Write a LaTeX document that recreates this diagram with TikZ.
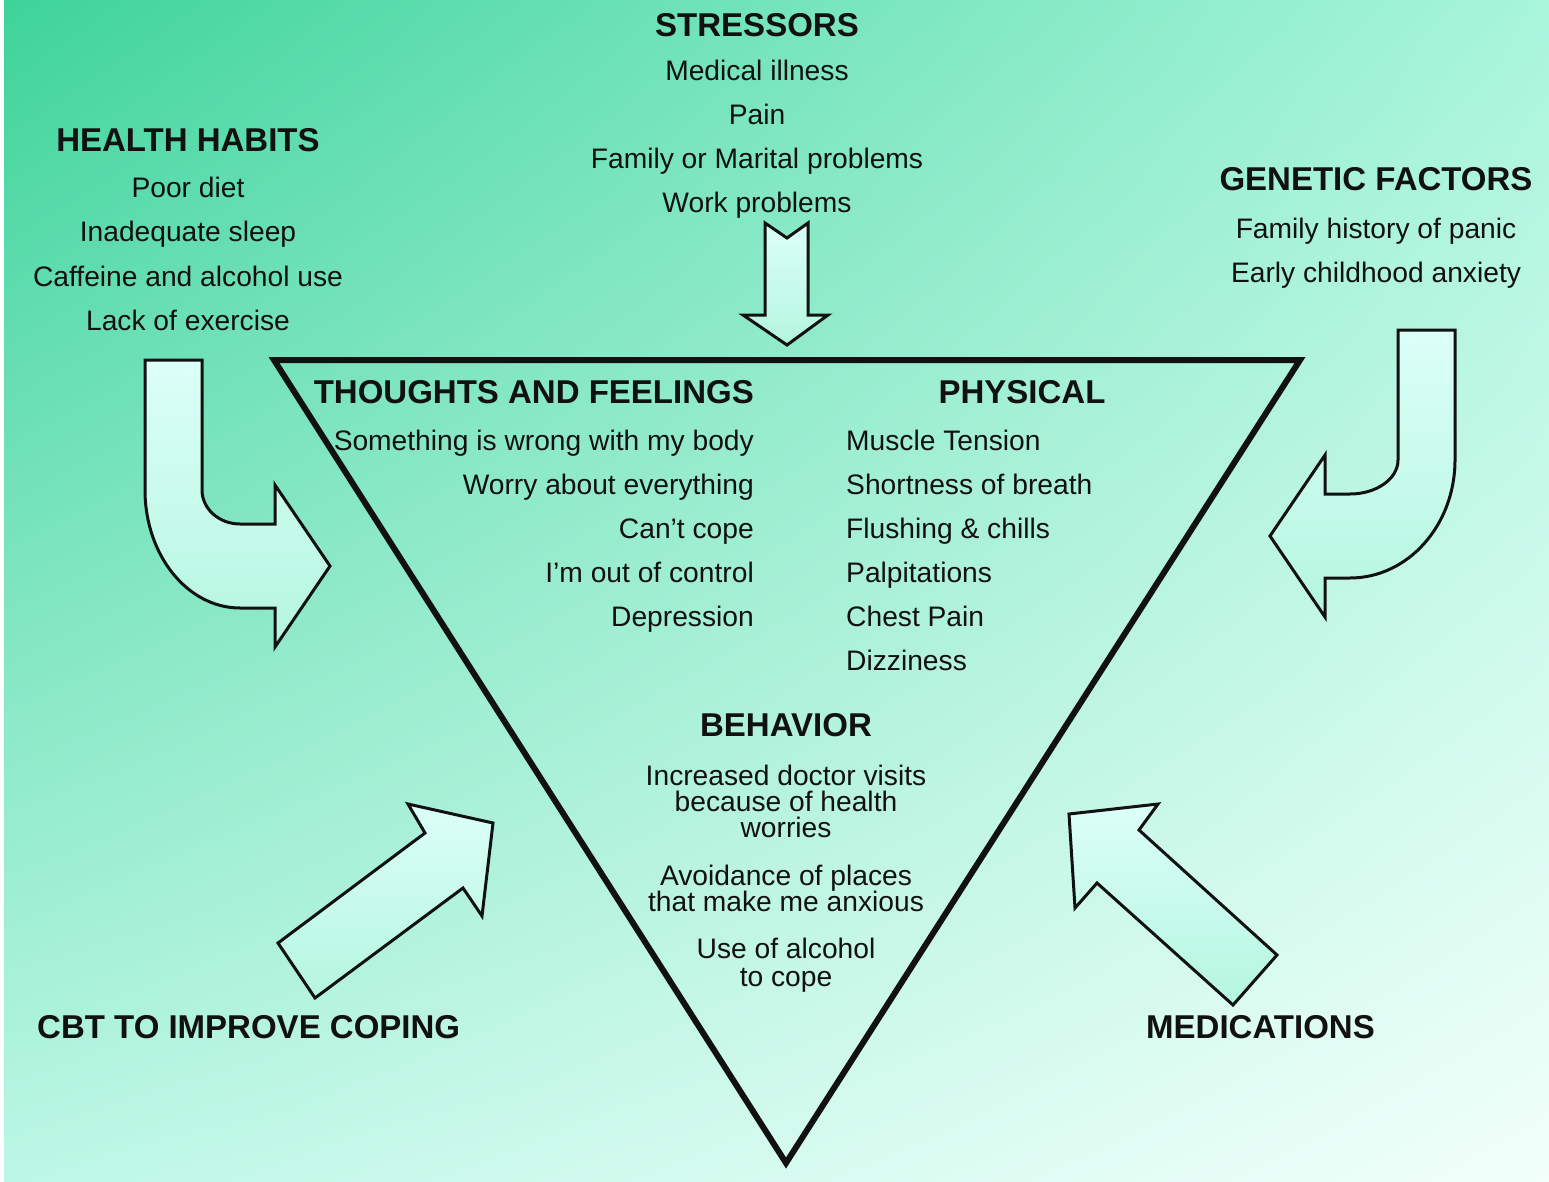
\documentclass[tikz,border=0pt]{standalone}
\usepackage{fontspec}
\usetikzlibrary{shadings}
\setmainfont{Liberation Sans}
\definecolor{bgTL}{RGB}{62,211,154}
\definecolor{bgTR}{RGB}{168,245,220}
\definecolor{bgBL}{RGB}{188,247,229}
\definecolor{bgBR}{RGB}{242,255,251}
\definecolor{arrTop}{RGB}{220,255,247}
\definecolor{arrBot}{RGB}{180,246,224}
\definecolor{ink}{RGB}{17,17,17}
\tikzset{
  txt/.style={font=\fontsize{28.2}{30}\selectfont, inner sep=0pt, anchor=base, text=ink},
  hd/.style={font=\fontsize{33}{34}\selectfont\bfseries, inner sep=0pt, anchor=base, text=ink},
  blockarrow/.style={draw=ink, line width=3pt, line join=miter, top color=arrTop, bottom color=arrBot},
}
\begin{document}
\begin{tikzpicture}[x=1pt,y=-1pt]
\useasboundingbox (0,0) rectangle (1549,1182);
\fill[white] (0,0) rectangle (1549,1182);
\shade[upper left=bgTL, upper right=bgTR, lower left=bgBL, lower right=bgBR] (4,0) rectangle (1549,1182);

% triangle
\draw[ink, line width=6pt, line join=miter] (274,360) -- (1300,360) -- (786,1163) -- cycle;

% stressors arrow
\path[blockarrow] (765,223) -- (787,238) -- (808,223) -- (808,315) -- (828,315) -- (787,345) -- (743,315) -- (765,315) -- cycle;

% health habits arrow
\path[blockarrow] (145,360) -- (202,360) -- (202,490)
  arc[start angle=180, end angle=90, x radius=38, y radius=34]
  -- (275,524) -- (275,485) -- (330,566) -- (275,647) -- (275,608) -- (240,608)
  arc[start angle=90, end angle=180, x radius=95, y radius=118]
  -- cycle;

% genetic factors arrow
\path[blockarrow] (1398,330) -- (1455,330) -- (1455,460)
  arc[start angle=0, end angle=90, x radius=105, y radius=118]
  -- (1325,578) -- (1325,617) -- (1270,536) -- (1325,455) -- (1325,494) -- (1350,494)
  arc[start angle=90, end angle=0, x radius=48, y radius=34]
  -- cycle;

% CBT arrow
\path[blockarrow] (278,943) -- (425,833) -- (408,804) -- (493,823) -- (482,916) -- (463,888) -- (315,998) -- cycle;

% medications arrow
\path[blockarrow] (1069,814) -- (1158,804) -- (1139,830) -- (1277,955) -- (1233,1005) -- (1097,883) -- (1075,908) -- cycle;

% stressors
\node[hd] (sh) at (757,37) {STRESSORS};
\node[txt] (s1) at (757,81) {Medical illness};
\node[txt] (s2) at (757,125) {Pain};
\node[txt] (s3) at (757,169) {Family or Marital problems};
\node[txt] (s4) at (757,213) {Work problems};

% health habits
\node[hd] (hh) at (188,152) {HEALTH HABITS};
\node[txt] (h1) at (188,198) {Poor diet};
\node[txt] (h2) at (188,242) {Inadequate sleep};
\node[txt] (h3) at (188,286) {Caffeine and alcohol use};
\node[txt] (h4) at (188,330) {Lack of exercise};

% genetic
\node[hd] (gh) at (1376,191) {GENETIC FACTORS};
\node[txt] (g1) at (1376,239) {Family history of panic};
\node[txt] (g2) at (1376,283) {Early childhood anxiety};

% thoughts
\node[hd, anchor=base east] (th) at (754,403) {THOUGHTS AND FEELINGS};
\node[txt, anchor=base east] (t1) at (754,450) {Something is wrong with my body};
\node[txt, anchor=base east] (t2) at (754,494) {Worry about everything};
\node[txt, anchor=base east] (t3) at (754,538) {Can’t cope};
\node[txt, anchor=base east] (t4) at (754,582) {I’m out of control};
\node[txt, anchor=base east] (t5) at (754,626) {Depression};

% physical
\node[hd] (ph) at (1022,403) {PHYSICAL};
\node[txt, anchor=base west] (p1) at (846,450) {Muscle Tension};
\node[txt, anchor=base west] (p2) at (846,494) {Shortness of breath};
\node[txt, anchor=base west] (p3) at (846,538) {Flushing \& chills};
\node[txt, anchor=base west] (p4) at (846,582) {Palpitations};
\node[txt, anchor=base west] (p5) at (846,626) {Chest Pain};
\node[txt, anchor=base west] (p6) at (846,670) {Dizziness};

% behavior
\node[hd] (bh) at (786,736) {BEHAVIOR};
\node[txt] (b1) at (786,785) {Increased doctor visits};
\node[txt] (b2) at (786,811) {because of health};
\node[txt] (b3) at (786,837) {worries};
\node[txt] (b4) at (786,885) {Avoidance of places};
\node[txt] (b5) at (786,911) {that make me anxious};
\node[txt] (b6) at (786,958) {Use of alcohol};
\node[txt] (b7) at (786,986) {to cope};

% bottom labels
\node[hd, anchor=base west] (cbt) at (37,1038) {CBT TO IMPROVE COPING};
\node[hd, anchor=base west] (med) at (1146,1038) {MEDICATIONS};
\end{tikzpicture}
\end{document}
